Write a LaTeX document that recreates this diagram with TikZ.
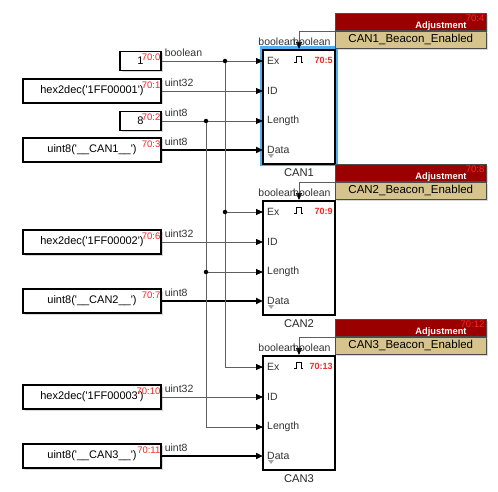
\documentclass[tikz,border=0pt]{standalone}
\usepackage{fontspec}
\setmainfont{Liberation Sans}
\usetikzlibrary{arrows.meta,shadows}

\definecolor{adjred}{RGB}{155,0,0}
\definecolor{adjtan}{RGB}{214,196,140}
\definecolor{selblue}{RGB}{80,175,240}
\definecolor{wiregray}{RGB}{95,95,95}
\definecolor{idred}{RGB}{240,40,40}

\tikzset{
  src/.style={draw,line width=1.1pt,fill=white,minimum width=138pt,minimum height=24pt,inner sep=0pt,
    font=\fontsize{11}{13}\selectfont,drop shadow={shadow xshift=1.5pt,shadow yshift=-1.5pt,fill=black!30}},
  canblk/.style={draw,line width=1.6pt,fill=white,minimum width=72pt,minimum height=114pt,inner sep=0pt},
  adjbox/.style={draw=black!70,line width=0.6pt,minimum width=151pt,minimum height=17pt,inner sep=0pt,
    drop shadow={shadow xshift=1.5pt,shadow yshift=-1.5pt,fill=black!30}},
  wire/.style={draw=wiregray,line width=0.8pt,-{Triangle[length=7pt,width=6pt,color=black]}},
  bus/.style={draw=black,line width=2pt,-{Triangle[length=7pt,width=6pt]}},
  tlbl/.style={inner sep=0pt,text=black!80,font=\fontsize{10.5}{12}\selectfont},
  port/.style={inner sep=0pt,anchor=west,xshift=4pt,text=black!80,font=\fontsize{10.5}{12}\selectfont},
  idlbl/.style={inner sep=0pt,text=idred,font=\fontsize{9.5}{11}\selectfont},
  dot/.style={circle,fill=black,inner sep=0pt,minimum size=4.5pt},
}

\begin{document}
\begin{tikzpicture}[x=1pt,y=-1pt]
  \useasboundingbox (0,0) rectangle (498,492);
  \draw[selblue,line width=6pt] (263,49) rectangle (335,163);
  \foreach \i/\t/\h/\u/\a/\b in {1/49/1/3/4/5,2/200/6/7/8/9,3/355/10/11/12/13}{
    \node[canblk,anchor=north] (can\i) at (299,\t) {};
    \coordinate (ex\i) at (263,\t+12);
    \coordinate (id\i) at (263,\t+42);
    \coordinate (len\i) at (263,\t+72);
    \coordinate (dat\i) at (263,\t+101);
    \fill[black!35] ([shift={(5,4)}]dat\i) -- ++(6,0) -- ++(-3,4) -- cycle;
    \node[port] at (ex\i) {Ex};
    \node[port] at (id\i) {ID};
    \node[port] at (len\i) {Length};
    \node[port] at (dat\i) {Data};
    \draw[line width=0.7pt] (294,\t+13) -- (296,\t+13) -- (296,\t+7) -- (301,\t+7) -- (301,\t+13) -- (303,\t+13);
    \node[idlbl,font=\bfseries\fontsize{9}{11}\selectfont,anchor=north east] at ([xshift=-3pt,yshift=-8pt]can\i.north east) {70:\b};
    \node[anchor=north,inner sep=0pt,text=black!85,font=\fontsize{11.2}{13}\selectfont] at ([yshift=-4pt]can\i.south) {CAN\i};
    % adjustment parameter
    \node[adjbox,fill=adjred,anchor=south west] (adjr\i) at (335,\t-18) {};
    \node[adjbox,fill=adjtan,anchor=north west,font=\fontsize{11.5}{13}\selectfont] (adjt\i) at (335,\t-18) {CAN\i\_Beacon\_Enabled};
    \node[inner sep=0pt,text=white,font=\bfseries\fontsize{9.3}{11}\selectfont] at (441,\t-23) {Adjustment};
    \node[idlbl,anchor=north east] at ([xshift=-2pt,yshift=-1pt]adjr\i.north east) {70:\a};
    \draw[wire] (adjt\i.north west) -| (can\i.north);
    \node[tlbl,anchor=south east] at ([xshift=-3pt,yshift=3.5pt]can\i.north) {boolean};
    \node[tlbl,anchor=south west] at ([xshift=-6pt,yshift=3.5pt]can\i.north) {boolean};
    % sources
    \node[src] (hex\i) at (92,\t+42) {hex2dec(\textquotesingle 1FF0000\i\textquotesingle)};
    \node[idlbl,anchor=north east] at ([xshift=-1pt,yshift=-3pt]hex\i.north east) {70:\h};
    \node[src] (u\i) at (92,\t+101) {uint8(\textquotesingle\_\_CAN\i\_\_\textquotesingle)};
    \node[idlbl,anchor=north east] at ([xshift=-1pt,yshift=-3pt]u\i.north east) {70:\u};
    \draw[wire] (hex\i) -- (id\i);
    \draw[bus] (u\i) -- (dat\i);
    \node[tlbl,anchor=south west] at ([xshift=3pt,yshift=4pt]hex\i.east) {uint32};
    \node[tlbl,anchor=south west] at ([xshift=3pt,yshift=4pt]u\i.east) {uint8};
  }
  % shared Ex and Length signals
  \node[src,minimum width=41pt,minimum height=19pt] (one) at (140.5,61) {1};
  \node[idlbl,anchor=north east] at ([xshift=-1pt,yshift=-3pt]one.north east) {70:0};
  \node[src,minimum width=41pt,minimum height=19pt] (eight) at (140.5,121) {8};
  \node[idlbl,anchor=north east] at ([xshift=-1pt,yshift=-3pt]eight.north east) {70:2};
  \node[tlbl,anchor=south west] at ([xshift=3pt,yshift=4pt]one.east) {boolean};
  \node[tlbl,anchor=south west] at ([xshift=3pt,yshift=4pt]eight.east) {uint8};
  \coordinate (jb) at (225,61);
  \coordinate (jl) at (206,121);
  \draw[wire] (one) -- (ex1);
  \draw[wire] (eight) -- (len1);
  \draw[wire] (jb) |- (ex2);
  \draw[wire] (jb) |- (ex3);
  \draw[wire] (jl) |- (len2);
  \draw[wire] (jl) |- (len3);
  \node[dot] at (jb) {};
  \node[dot] at (jb |- ex2) {};
  \node[dot] at (jl) {};
  \node[dot] at (jl |- len2) {};
\end{tikzpicture}
\end{document}
